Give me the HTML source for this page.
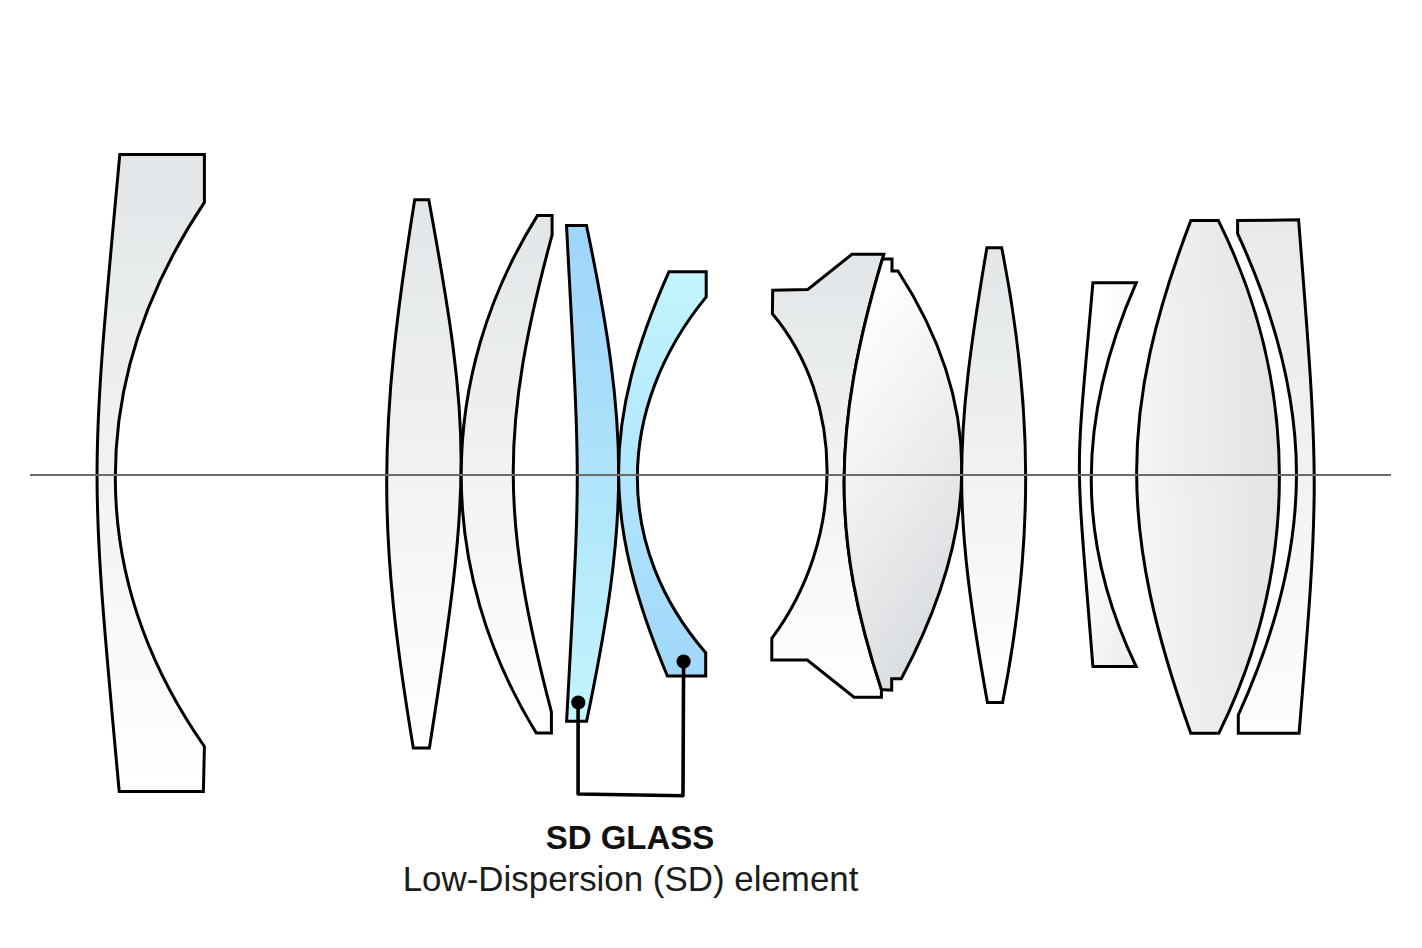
<!DOCTYPE html>
<html><head><meta charset="utf-8"><style>
html,body{margin:0;padding:0;background:#fff;}
body{width:1422px;height:948px;overflow:hidden;position:relative;}
svg{position:absolute;left:0;top:0;}
.t1{position:absolute;left:0;width:1260px;text-align:center;font-family:"Liberation Sans",sans-serif;font-weight:bold;color:#111;}
.t2{position:absolute;left:0;width:1262px;text-align:center;font-family:"Liberation Sans",sans-serif;color:#1c1c1c;}
</style></head><body>
<svg width="1422" height="948" viewBox="0 0 1422 948">
<defs>
<linearGradient id="gv" x1="0" y1="0" x2="0" y2="1">
  <stop offset="0" stop-color="#e3e6e8"/><stop offset="0.5" stop-color="#f0f2f3"/><stop offset="1" stop-color="#ffffff"/>
</linearGradient>
<linearGradient id="gv11" x1="0" y1="0" x2="0" y2="1">
  <stop offset="0" stop-color="#e7e9eb"/><stop offset="0.5" stop-color="#f1f2f3"/><stop offset="1" stop-color="#fdfdfd"/>
</linearGradient>
<linearGradient id="gd" x1="0.3" y1="0.05" x2="0.65" y2="0.95">
  <stop offset="0" stop-color="#ffffff"/><stop offset="1" stop-color="#d9dcdf"/>
</linearGradient>
<linearGradient id="gh" x1="0.2" y1="0.3" x2="1" y2="1">
  <stop offset="0" stop-color="#ffffff"/><stop offset="1" stop-color="#e9ebec"/>
</linearGradient>
<linearGradient id="gh2" x1="0" y1="0.6" x2="1" y2="0.45">
  <stop offset="0" stop-color="#f4f5f6"/><stop offset="1" stop-color="#e1e3e5"/>
</linearGradient>
<linearGradient id="blue1" x1="0" y1="0" x2="0" y2="1">
  <stop offset="0" stop-color="#9ed5fb"/><stop offset="0.35" stop-color="#a9defa"/><stop offset="1" stop-color="#c3f5fd"/>
</linearGradient>
<linearGradient id="blue2" x1="0" y1="0" x2="0" y2="1">
  <stop offset="0" stop-color="#c3f5fd"/><stop offset="1" stop-color="#a1d7fa"/>
</linearGradient>
</defs>
<g stroke="#000" stroke-width="3.0" stroke-linejoin="miter" stroke-miterlimit="10">
<path d="M119.80 154.60 L204.4 154.6 L204.40 202.40 C85.61 380.50 85.61 575.95 204.40 746.50 L203.4 791.4 L119.20 791.40 C89.55 469.22 89.55 480.55 119.80 154.60 Z" fill="url(#gv)"/>
<path d="M414.70 199.70 L428.80 199.70 C471.81 434.61 471.81 479.48 429.40 747.90 L413.30 747.90 C377.61 533.92 377.61 430.01 414.70 199.70 Z" fill="url(#gv)"/>
<path d="M537.40 215.60 L552.1 215.6 L552.10 234.90 C500.40 425.89 500.40 516.83 551.40 711.80 L551.4 732.9 L536.20 732.90 C436.01 569.97 436.01 377.91 537.40 215.60 Z" fill="url(#gv)"/>
<path d="M566.50 225.50 L586.50 225.50 C629.41 431.04 629.41 515.62 586.60 721.30 L566.60 721.30 C580.85 457.82 580.85 497.31 566.50 225.50 Z" fill="url(#blue1)"/>
<path d="M668.90 271.80 L706.2 271.8 L706.20 296.90 C614.49 409.19 614.49 547.70 705.70 652.70 L705.7 676 L667.40 676.00 C602.06 520.03 602.06 421.85 668.90 271.80 Z" fill="url(#blue2)"/>
<path d="M772.7 290.3 L807.8 289.5 L851.9 254.3 L883.80 254.30 C831.30 428.06 831.30 537.98 881.40 689.50 L881.4 697.2 L854 697.2 L807.3 660 L771.8 660 L771.80 638.40 C845.40 539.76 845.40 400.63 772.40 313.70 Z" fill="url(#gv)"/>
<path d="M882.39 259.00 L892 259 L892 271 L898.00 271.00 C982.55 401.41 982.55 526.25 901.30 678.80 L891.7 678.8 L891.7 690.2 L881.40 689.50 C831.75 539.35 831.31 430.05 882.39 259.00 Z" fill="url(#gd)"/>
<path d="M986.90 247.70 L1001.70 247.70 C1033.53 407.84 1033.53 545.65 1002.60 702.40 L987.40 702.40 C953.12 510.33 953.12 446.47 986.90 247.70 Z" fill="url(#gv)"/>
<path d="M1092.90 282.80 L1136.20 282.80 C1076.27 418.89 1076.27 541.78 1136.20 666.60 L1092.90 666.60 C1074.85 438.61 1074.85 490.53 1092.90 282.80 Z" fill="url(#gh)"/>
<path d="M1190.80 220.60 L1218.40 220.60 C1299.63 384.15 1299.63 568.89 1218.90 733.20 L1190.80 733.20 C1118.56 531.35 1118.56 409.94 1190.80 220.60 Z" fill="url(#gh2)"/>
<path d="M1237.6 220.6 L1298.60 219.80 C1319.34 483.27 1319.34 486.69 1299.10 733.20 L1238.3 733.2 L1238.30 715.00 C1315.98 543.81 1315.98 403.95 1237.60 233.60 Z" fill="url(#gv11)"/>
</g>
<line x1="30" y1="475.0" x2="1391" y2="475.0" stroke="#6b6b6b" stroke-width="2"/>
<path d="M578.1 702.5 L578.1 794 L683.0 795.8 L683.6 661.6" fill="none" stroke="#000" stroke-width="3.6" stroke-linejoin="round"/>
<circle cx="578.3" cy="702.5" r="7.1" fill="#000"/>
<circle cx="683.6" cy="661.6" r="7.1" fill="#000"/>
</svg>
<div class="t1" style="top:818.5px;font-size:33px;line-height:38px;"><span id="s1" style="display:inline-block;transform:scaleX(1.0);">SD GLASS</span></div>
<div class="t2" style="top:860px;font-size:35px;line-height:38px;"><span id="s2" style="display:inline-block;transform:scaleX(0.997);">Low-Dispersion (SD) element</span></div>
</body></html>
